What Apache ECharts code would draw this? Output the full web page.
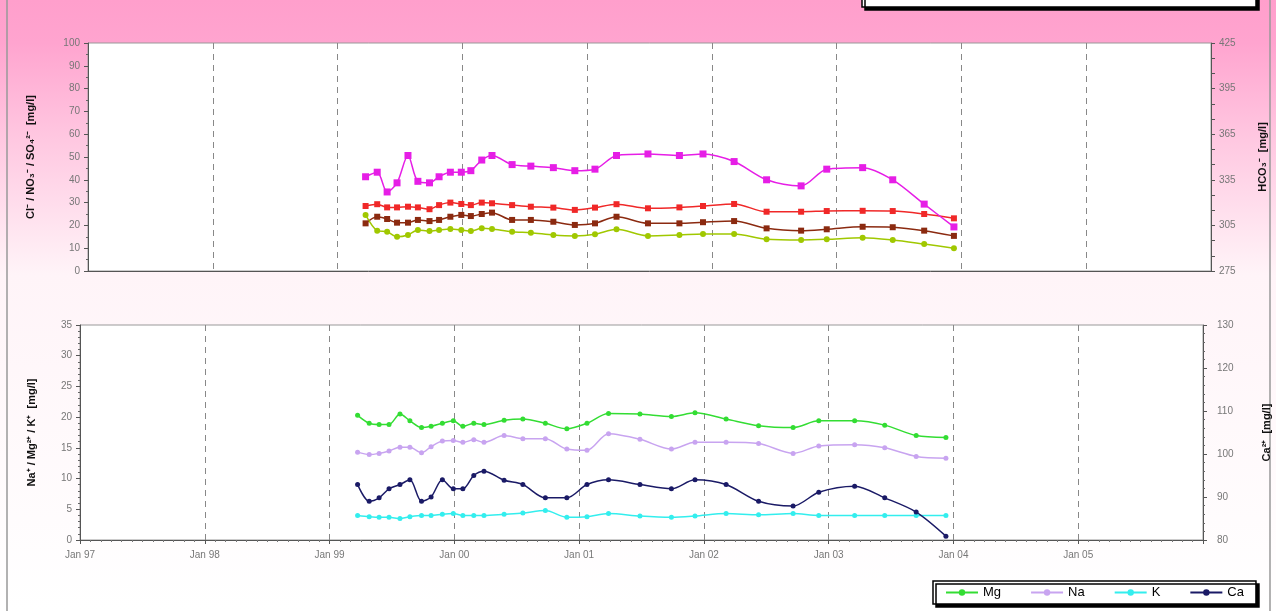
<!DOCTYPE html>
<html><head><meta charset="utf-8">
<script src="https://cdn.jsdelivr.net/npm/echarts@6/dist/echarts.min.js"></script>
<style>html,body{margin:0;padding:0;background:#fff}#c{width:1276px;height:611px}</style>
</head><body><div id="c"></div>
<script>
// Sampling dates (shared by both panels)
const dates = ['1999-03-24','1999-04-27','1999-05-26','1999-06-24','1999-07-26','1999-08-24','1999-09-27','1999-10-25','1999-11-27','1999-12-29',
 '2000-01-26','2000-02-27','2000-03-28','2000-05-26','2000-07-20','2000-09-24','2000-11-26','2001-01-24','2001-03-28','2001-06-28',
 '2001-09-28','2001-12-06','2002-03-07','2002-06-10','2002-09-19','2002-12-03','2003-03-18','2003-06-14','2003-09-14','2003-12-10'];
// Top panel (left axis: mg/l)
const cl  = [28.5,29.3,27.9,27.9,28.2,27.9,27.1,28.9,30.0,29.4,28.9,30.0,29.7,28.9,28.2,27.8,26.8,27.8,29.3,27.5,27.9,28.5,29.4,26.0,26.0,26.3,26.4,26.3,25.0,23.1];
const no3 = [20.9,23.8,22.8,21.2,21.2,22.4,21.9,22.4,23.8,24.6,24.1,25.0,25.6,22.4,22.4,21.6,20.2,20.9,23.8,20.9,20.9,21.4,21.9,18.7,17.7,18.3,19.4,19.2,17.7,15.4];
const so4 = [24.6,17.7,17.2,15.0,15.8,18.0,17.5,18.0,18.4,18.0,17.5,18.7,18.4,17.2,16.8,15.8,15.4,16.1,18.3,15.4,15.8,16.2,16.2,13.9,13.6,13.9,14.6,13.6,11.8,10.0];
// Top panel (right axis: HCO3 mg/l)
const hco3 = [337,340,327,333,351,334,333,337,340,340,341,348,351,345,344,343,341,342,351,352,351,352,347,335,331,342,343,335,319,304];
// Bottom panel (left axis: mg/l)
const mg = [20.3,19.0,18.8,18.8,20.5,19.4,18.3,18.5,19.0,19.4,18.5,19.0,18.8,19.5,19.7,19.0,18.1,19.0,20.6,20.5,20.1,20.7,19.7,18.6,18.3,19.4,19.4,18.7,17.0,16.7];
const na = [14.3,13.9,14.1,14.5,15.1,15.1,14.2,15.2,16.1,16.2,15.9,16.3,15.9,17.0,16.5,16.5,14.8,14.6,17.3,16.4,14.8,15.9,15.9,15.7,14.1,15.3,15.5,15.0,13.6,13.3];
const k  = [4.0,3.8,3.7,3.7,3.5,3.8,4.0,4.0,4.2,4.3,4.0,4.0,4.0,4.2,4.4,4.8,3.7,3.8,4.3,3.9,3.7,3.9,4.3,4.1,4.3,4.0,4.0,4.0,4.0,4.0];
// Bottom panel (right axis: Ca mg/l)
const ca = [92.9,89.0,89.8,91.9,92.9,94.0,89.0,90.0,94.0,91.9,91.9,95.0,96.0,93.9,92.9,89.8,89.8,92.9,94.0,92.9,91.9,94.0,92.9,89.0,87.9,91.1,92.5,89.8,86.5,80.9];
const yearTicks = ['Jan 97','Jan 98','Jan 99','Jan 00','Jan 01','Jan 02','Jan 03','Jan 04','Jan 05',''];
const hco3Ticks = [275,305,335,365,395,425];

function decYear(s){const d=new Date(s+'T00:00:00Z');const y=d.getUTCFullYear();const a=Date.UTC(y,0,1),b=Date.UTC(y+1,0,1);return y+(d-a)/(b-a);}
const xs = dates.map(decYear);
const pts = arr => arr.map((v,i)=>[xs[i],v]);

const FONT = 'Liberation Sans, Arial, sans-serif';
const lab = {color:'#777', fontSize:10, fontFamily:FONT};
const nameStyle = {color:'#111', fontSize:11, fontWeight:'bold', fontFamily:FONT};

function xAxis(gi, showLabels){
  return {type:'value', gridIndex:gi, min:1997, max:2006, interval:1,
    axisLine:{show:true,lineStyle:{color:'#555',width:1}},
    axisTick:{show:showLabels, length:4, inside:false, lineStyle:{color:'#555'}},
    minorTick:{show:showLabels, splitNumber:12, length:2, lineStyle:{color:'#777'}},
    axisLabel:{show:showLabels, ...lab, margin:10, formatter:v=>yearTicks[Math.round(v-1997)]},
    splitLine:{show:true, lineStyle:{color:'#888', type:[6,5], width:1}}};
}

function ser(name, data, color, xi, yi, symbol, size){
  return {name, type:'line', xAxisIndex:xi, yAxisIndex:yi, data:pts(data), smooth:0.3,
    symbol, symbolSize:size, showSymbol:true,
    lineStyle:{color, width:1.5}, itemStyle:{color, borderWidth:0}, emphasis:{disabled:true}, z:3};
}

const chart = echarts.init(document.getElementById('c'), null, {renderer:'canvas'});
chart.setOption({
  animation:false,
  backgroundColor:{type:'linear', x:0, y:0, x2:0, y2:1, colorStops:[
    {offset:0, color:'#ff9fcc'},{offset:0.07, color:'#ffa4cf'},{offset:0.22, color:'#ffc6e0'},{offset:0.45, color:'#fff4f8'},{offset:1, color:'#ffffff'}]},
  graphic:[
    {type:'rect', shape:{x:7, y:-5, width:1263, height:620}, style:{fill:'none', stroke:'#999', lineWidth:1.5}, silent:true},
    {type:'rect', shape:{x:862, y:-20, width:394, height:27}, style:{fill:'#fff', stroke:'#000', lineWidth:1.5, shadowColor:'#000', shadowOffsetX:3, shadowOffsetY:3}, silent:true}
  ],
  grid:[
    {left:88, right:65, top:43, height:228, show:true, backgroundColor:'#fff', borderColor:'#999', borderWidth:1, containLabel:false, outerBoundsMode:'none'},
    {left:80, right:73, top:325, height:215, show:true, backgroundColor:'#fff', borderColor:'#999', borderWidth:1, containLabel:false, outerBoundsMode:'none'}
  ],
  xAxis:[xAxis(0,false), xAxis(1,true)],
  yAxis:[
    {type:'value', gridIndex:0, min:0, max:100, interval:10, position:'left',
     name:'Cl\u207B / NO\u2083\u207B / SO\u2084\u00B2\u207B  [mg/l]', nameLocation:'middle', nameGap:52, nameRotate:90, nameTextStyle:nameStyle,
     axisLine:{show:true,lineStyle:{color:'#555'}}, axisTick:{show:true,length:4,lineStyle:{color:'#555'}},
     minorTick:{show:true,splitNumber:2,length:2,lineStyle:{color:'#666'}},
     axisLabel:{...lab, margin:8}, splitLine:{show:false}},
    {type:'value', gridIndex:0, min:275, max:425, position:'right',
     name:'HCO\u2083\u207B  [mg/l]', nameLocation:'middle', nameGap:46, nameRotate:90, nameTextStyle:nameStyle,
     axisLine:{show:true,lineStyle:{color:'#555'}},
     axisTick:{show:true,length:4,lineStyle:{color:'#555'}, customValues:[275,285,295,305,315,325,335,345,355,365,375,385,395,405,415,425]},
     axisLabel:{...lab, margin:8, customValues:hco3Ticks}, splitLine:{show:false}},
    {type:'value', gridIndex:1, min:0, max:35, interval:5, position:'left',
     name:'Na\u207A / Mg\u00B2\u207A / K\u207A  [mg/l]', nameLocation:'middle', nameGap:43, nameRotate:90, nameTextStyle:nameStyle,
     axisLine:{show:true,lineStyle:{color:'#555'}}, axisTick:{show:true,length:4,lineStyle:{color:'#555'}},
     minorTick:{show:true,splitNumber:5,length:2,lineStyle:{color:'#666'}},
     axisLabel:{...lab, margin:8}, splitLine:{show:false}},
    {type:'value', gridIndex:1, min:80, max:130, interval:10, position:'right',
     name:'Ca\u00B2\u207A  [mg/l]', nameLocation:'middle', nameGap:58, nameRotate:90, nameTextStyle:nameStyle,
     axisLine:{show:true,lineStyle:{color:'#555'}}, axisTick:{show:true,length:4,lineStyle:{color:'#555'}},
     minorTick:{show:true,splitNumber:5,length:2,lineStyle:{color:'#666'}},
     axisLabel:{...lab, margin:14}, splitLine:{show:false}}
  ],
  legend:{data:['Mg','Na','K','Ca'], left:933, top:581, orient:'horizontal', itemWidth:32, itemHeight:8, itemGap:29,
    padding:[5,12], backgroundColor:'#fff', borderColor:'#000', borderWidth:1.5,
    shadowColor:'#000', shadowOffsetX:3, shadowOffsetY:3, shadowBlur:0,
    textStyle:{color:'#000', fontSize:13, fontFamily:FONT}},
  series:[
    ser('Cl', cl, '#f02828', 0, 0, 'rect', 6),
    ser('NO3', no3, '#8b2a10', 0, 0, 'rect', 6),
    ser('SO4', so4, '#a0c800', 0, 0, 'circle', 6),
    ser('HCO3', hco3, '#e61ee6', 0, 1, 'rect', 7),
    ser('Mg', mg, '#33dd33', 1, 2, 'circle', 5),
    ser('Na', na, '#c8a4f0', 1, 2, 'circle', 5),
    ser('K', k, '#33eeee', 1, 2, 'circle', 5),
    ser('Ca', ca, '#1a1a66', 1, 3, 'circle', 5)
  ]
});
</script></body></html>
